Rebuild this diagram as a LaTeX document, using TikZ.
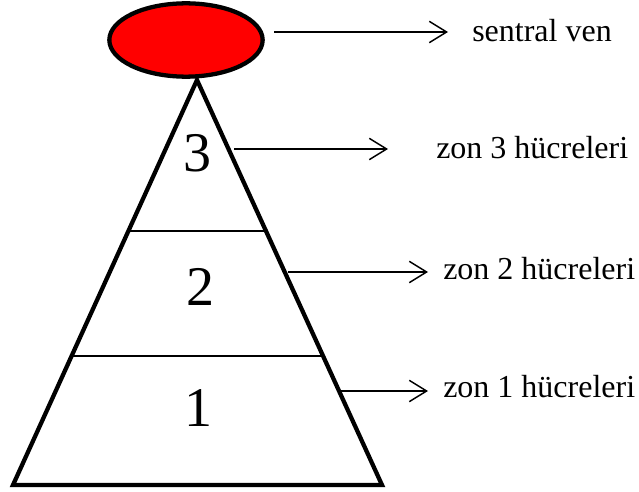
\documentclass[tikz,border=0pt]{standalone}
\usepackage{fontspec}
\setmainfont{Liberation Serif}
\usetikzlibrary{arrows.meta,shapes.geometric}
\tikzset{
  zonline/.style={line width=1.4pt},
  outline/.style={line width=3.2pt, line join=miter},
  pointer/.style={line width=1.1pt, -{Straight Barb[length=13pt,width=16pt,line width=1.1pt]}},
  zonlabel/.style={anchor=west, inner sep=0pt, font=\fontsize{24}{28}\selectfont},
  zonnum/.style={inner sep=0pt, font=\fontsize{42}{48}\selectfont}
}
\begin{document}
\begin{tikzpicture}[x=0.75pt,y=-0.75pt]
\useasboundingbox (0,0) rectangle (639,492);
\coordinate (A) at (197,80);
\coordinate (BL) at (13,485);
\coordinate (BR) at (382,485);
\draw[zonline] (128,231) -- (267,231);
\draw[zonline] (73,356) -- (322,356);
\draw[outline] (A) -- (BL) -- (BR) -- cycle;
\node[draw, outline, fill=red, ellipse, minimum width=115pt, minimum height=55pt, inner sep=0pt] (ven) at (186,40) {};
\node[zonnum] (z3) at (197,153) {3};
\node[zonnum] (z2) at (200,287) {2};
\node[zonnum] (z1) at (198,408) {1};
\coordinate (s0) at (274,32);
\coordinate (e0) at (448,32);
\coordinate (s3) at (234,149);
\coordinate (e3) at (388,149);
\coordinate (s2) at (288,272);
\coordinate (e2) at (428,272);
\coordinate (s1) at (341,391);
\coordinate (e1) at (428,391);
\node[zonlabel] (l0) at (472,31) {sentral ven};
\node[zonlabel] (l3) at (436,148) {zon 3 hücreleri};
\node[zonlabel] (l2) at (443,269) {zon 2 hücreleri};
\node[zonlabel] (l1) at (443,387) {zon 1 hücreleri};
\draw[pointer] (s0) -- (e0);
\draw[pointer] (s3) -- (e3);
\draw[pointer] (s2) -- (e2);
\draw[pointer] (s1) -- (e1);
\end{tikzpicture}
\end{document}
